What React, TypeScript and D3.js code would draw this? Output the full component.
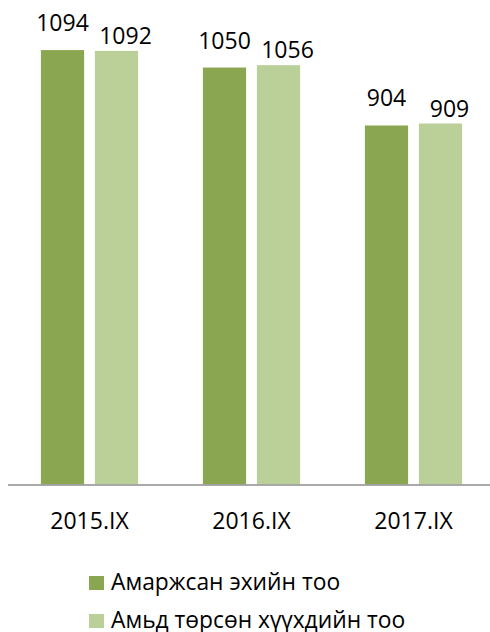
import * as d3 from "d3";

const categories = ["2015.IX", "2016.IX", "2017.IX"];
const seriesNames = ["Амаржсан эхийн тоо", "Амьд төрсөн хүүхдийн тоо"];
const mothers = [1094, 1050, 904];
const births = [1092, 1056, 909];

const colors = ["#8ba650", "#bbcf99"];
const W = 490;
const H = 632;
const font = "'Open Sans', sans-serif";

const App = () => {
  const series = [mothers, births];

  const x0 = d3
    .scaleBand<string>()
    .domain(categories)
    .range([8.5, 494.5])
    .paddingInner(0.4)
    .paddingOuter(0.2);

  const x1 = d3
    .scaleBand<number>()
    .domain([0, 1])
    .range([0, x0.bandwidth()])
    .paddingInner(0.2);

  const y = d3.scaleLinear().domain([0, 1200]).range([484.3, 8]);

  // label placement as in the source (dark labels sit higher, light ones nudged right)
  const labelGap = [18, 6];
  const labelDx = [0, 9];

  return (
    <svg
      width={W}
      height={H}
      style={{ position: "absolute", left: 0, top: 0, background: "#fff" }}
    >
      {categories.map((c, i) => (
        <g key={c} transform={`translate(${x0(c)},0)`}>
          {series.map((s, k) => (
            <rect
              key={k}
              x={x1(k)}
              y={y(s[i])}
              width={x1.bandwidth()}
              height={y(0) - y(s[i])}
              fill={colors[k]}
            />
          ))}
          {series.map((s, k) => (
            <text
              key={"l" + k}
              x={(x1(k) ?? 0) + x1.bandwidth() / 2 + labelDx[k]}
              y={y(s[i]) - labelGap[k] - 1}
              textAnchor="middle"
              fontFamily={font}
              fontSize={23}
              fill="#000"
            >
              {s[i]}
            </text>
          ))}
          <text
            x={x0.bandwidth() / 2}
            y={528.5}
            textAnchor="middle"
            fontFamily={font}
            fontSize={23}
            fill="#000"
          >
            {c}
          </text>
        </g>
      ))}

      <line x1={8} x2={W} y1={485} y2={485} stroke="#8c8c8c" strokeWidth={1.6} />

      {seriesNames.map((name, k) => (
        <g key={name} transform={`translate(89,${590 + k * 38})`}>
          <rect y={-14} width={15} height={14} fill={colors[k]} />
          <text x={22} y={0} fontFamily={font} fontSize={22.8} fill="#000">
            {name}
          </text>
        </g>
      ))}
    </svg>
  );
};

export default App;
